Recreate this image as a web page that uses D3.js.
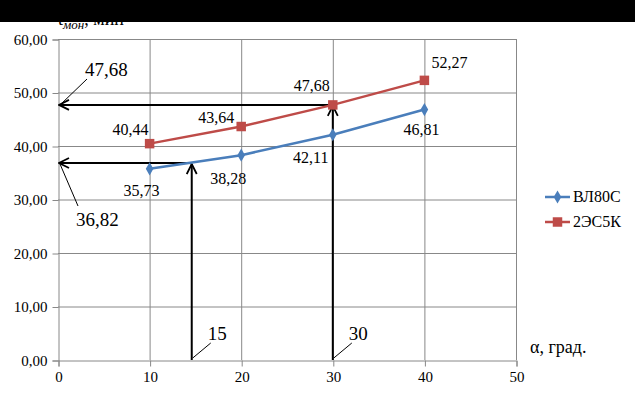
<!DOCTYPE html>
<html>
<head>
<meta charset="utf-8">
<script src="https://cdn.jsdelivr.net/npm/d3@7"></script>
<style>
    body { margin: 0; background: #fff; }
    .grid line { stroke: #888; stroke-width: 1; }
    .axis path, .axis line { stroke: #888; }
</style>
</head>
<body>
<script>
//chart data
var angles = [10, 20, 30, 40];
var seriesNames = ["ВЛ80С", "2ЭС5К"];
var vl80s = [35.73, 38.28, 42.11, 46.81];
var es5k = [40.44, 43.64, 47.68, 52.27];
var xTicks = [0, 10, 20, 30, 40, 50];
var yTicks = [0, 10, 20, 30, 40, 50, 60];

//read-off guides: angle, time, labels
var guideAngles = [14.6, 30];
var guideTimes = [36.82, 47.68];
var guideAngleLabels = ["15", "30"];
var guideTimeLabels = ["36,82", "47,68"];

//label offsets (px) for each point label
var offsetsBlue = [[-8, 27], [-13, 29], [-22, 28], [-3, 25]];
var offsetsRed = [[-19, -9], [-25, -4], [-21, -14], [25, -12]];

var width = 635, height = 397;
var colors = ["#4a7ebb", "#be4b48"];
var serif = "Liberation Serif";

var svg = d3.select("body").append("svg")
    .attr("width", width)
    .attr("height", height);

var x = d3.scaleLinear().domain([0, 50]).range([58, 516]);
var y = d3.scaleLinear().domain([0, 60]).range([360, 39]);

function fmt(v){ return d3.format(".2f")(v).replace(".", ","); }

//gridlines
var grid = svg.append("g").attr("class", "grid");
grid.selectAll(".hgrid")
    .data(yTicks.slice(1))
    .enter().append("line")
    .attr("x1", x(0)).attr("x2", x(50))
    .attr("y1", function(d){ return y(d) + 0.5; })
    .attr("y2", function(d){ return y(d) + 0.5; });
grid.selectAll(".vgrid")
    .data(xTicks.slice(1))
    .enter().append("line")
    .attr("x1", function(d){ return x(d) + 0.5; })
    .attr("x2", function(d){ return x(d) + 0.5; })
    .attr("y1", y(60)).attr("y2", y(0));

//axes
var yAxis = d3.axisLeft(y).tickValues(yTicks).tickSize(6).tickPadding(5).tickFormat(fmt);
svg.append("g").attr("class", "axis")
    .attr("transform", "translate(" + (x(0) + 0.5) + ",0.5)")
    .call(yAxis)
    .attr("font-size", 15);

var xAxis = d3.axisBottom(x).tickValues(xTicks).tickSize(6).tickPadding(5);
svg.append("g").attr("class", "axis")
    .attr("transform", "translate(0.5," + (y(0) + 0.5) + ")")
    .call(xAxis)
    .attr("font-size", 15);

//arrow marker
svg.append("defs").append("marker")
    .attr("id", "arrow")
    .attr("viewBox", "0 0 12 12")
    .attr("refX", 11).attr("refY", 6)
    .attr("markerWidth", 12).attr("markerHeight", 12)
    .attr("markerUnits", "userSpaceOnUse")
    .attr("orient", "auto")
    .append("path")
    .attr("d", "M1,1 L11,6 L1,11")
    .attr("fill", "none")
    .attr("stroke", "#000")
    .attr("stroke-width", 1.8);

//guide arrows
guideAngles.forEach(function(a, i){
    var t = guideTimes[i];
    svg.append("line")
        .attr("x1", x(a)).attr("y1", y(0))
        .attr("x2", x(a)).attr("y2", y(t) + 1)
        .attr("stroke", "#000").attr("stroke-width", 2)
        .attr("marker-end", "url(#arrow)");
    svg.append("line")
        .attr("x1", x(a)).attr("y1", y(t))
        .attr("x2", x(0) + 1).attr("y2", y(t))
        .attr("stroke", "#000").attr("stroke-width", 2)
        .attr("marker-end", "url(#arrow)");
});

//series lines and markers
var line = d3.line()
    .x(function(d, i){ return x(angles[i]); })
    .y(function(d){ return y(d); });

[vl80s, es5k].forEach(function(vals, s){
    svg.append("path")
        .datum(vals)
        .attr("d", line)
        .attr("fill", "none")
        .attr("stroke", colors[s])
        .attr("stroke-width", 2.5);
    svg.selectAll(".pt" + s)
        .data(vals)
        .enter().append("path")
        .attr("transform", function(d, i){ return "translate(" + x(angles[i]) + "," + y(d) + ")"; })
        .attr("d", d3.symbol().type(s === 0 ? d3.symbolDiamond : d3.symbolSquare).size(s === 0 ? 50 : 90))
        .attr("fill", colors[s]);
    var offs = s === 0 ? offsetsBlue : offsetsRed;
    svg.selectAll(".lbl" + s)
        .data(vals)
        .enter().append("text")
        .attr("x", function(d, i){ return x(angles[i]) + offs[i][0]; })
        .attr("y", function(d, i){ return y(d) + offs[i][1]; })
        .attr("text-anchor", "middle")
        .style("font-size", "16px")
        .text(fmt);
});

//guide callouts: time values near y axis, angle values near x axis
var timeLabelPos = [[76, 226, 60, 164, 78, 206], [85, 76, 87, 79, 60, 105]];
guideTimeLabels.forEach(function(t, i){
    var p = timeLabelPos[i];
    svg.append("line")
        .attr("x1", p[2]).attr("y1", p[3]).attr("x2", p[4]).attr("y2", p[5])
        .attr("stroke", "#000").attr("stroke-width", 1);
    svg.append("text")
        .attr("x", p[0]).attr("y", p[1])
        .style("font-size", "19px")
        .text(t);
});
guideAngleLabels.forEach(function(t, i){
    var ax = x(guideAngles[i]);
    svg.append("line")
        .attr("x1", ax + 1).attr("y1", y(0) - 2)
        .attr("x2", ax + 19).attr("y2", y(0) - 17)
        .attr("stroke", "#000").attr("stroke-width", 1);
    svg.append("text")
        .attr("x", ax + 16).attr("y", y(0) - 20)
        .style("font-size", "19px")
        .text(t);
});

//axis titles
svg.append("text")
    .attr("x", 530).attr("y", 353)
    .style("font-size", "18px")
    .text("α, град.");

var yTitle = svg.append("text")
    .attr("x", 58).attr("y", 25)
    .style("font-size", "18px");
yTitle.append("tspan").text("t");
yTitle.append("tspan").attr("dy", 4).style("font-size", "13px").style("font-style", "italic").text("мон");
yTitle.append("tspan").attr("dy", -4).text(", мин");

//black band over the top
svg.append("rect")
    .attr("x", 0).attr("y", 0)
    .attr("width", width).attr("height", 22)
    .attr("fill", "#000");

//legend
var legend = svg.selectAll(".legend")
    .data(seriesNames)
    .enter().append("g")
    .attr("transform", function(d, i){ return "translate(545," + (197 + i * 25) + ")"; });
legend.append("line")
    .attr("x1", 0).attr("x2", 25)
    .attr("stroke", function(d, i){ return colors[i]; })
    .attr("stroke-width", 2.5);
legend.append("path")
    .attr("transform", "translate(12.5,0)")
    .attr("d", function(d, i){ return d3.symbol().type(i === 0 ? d3.symbolDiamond : d3.symbolSquare).size(i === 0 ? 50 : 90)(); })
    .attr("fill", function(d, i){ return colors[i]; });
legend.append("text")
    .attr("x", 28).attr("y", 5)
    .style("font-size", "16px")
    .text(function(d){ return d; });

//serif font on every text
svg.selectAll("text")
    .style("font-family", serif)
    .attr("fill", "#000");
</script>
</body>
</html>
